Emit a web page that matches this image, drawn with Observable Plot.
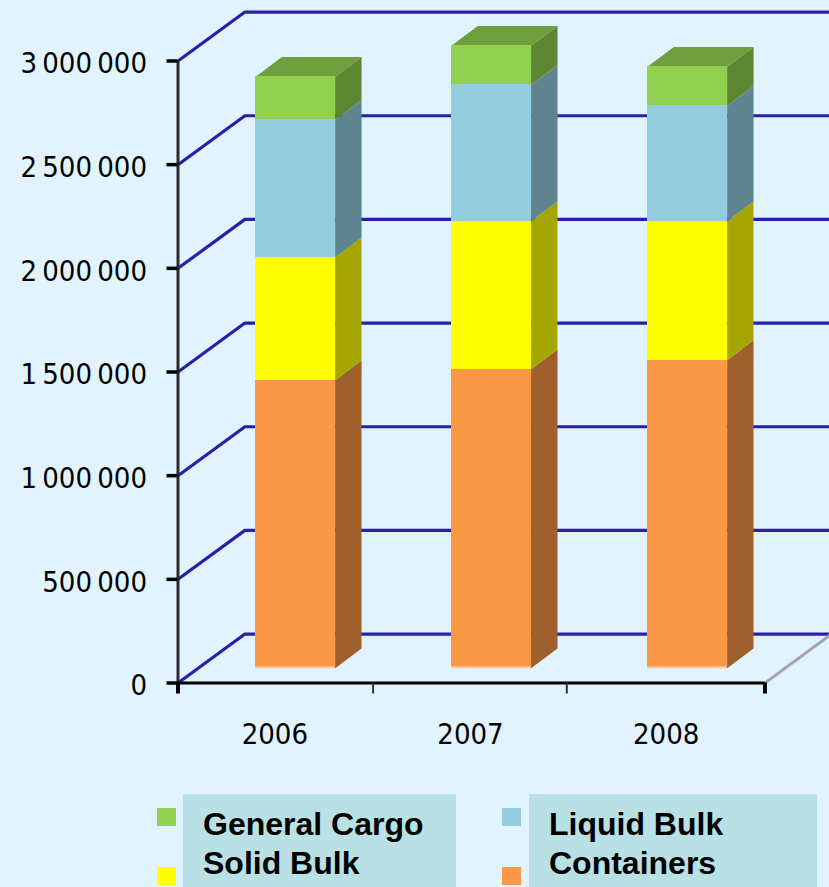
<!DOCTYPE html>
<html><head><meta charset="utf-8">
<script src="https://cdn.jsdelivr.net/npm/d3@7"></script>
<script src="https://cdn.jsdelivr.net/npm/@observablehq/plot@0.6"></script>
<style>
html,body{margin:0;padding:0;background:#E1F3FF;overflow:hidden}
#wrap{position:relative;width:829px;height:887px}
#chart svg{display:block}
#legend{position:absolute;left:0;top:794px;width:829px;height:93px;font:bold 32px "Liberation Sans",Arial,sans-serif;color:#000}
.box{position:absolute;top:0;height:93px;background:#B9E0E4}
.lab{position:absolute;white-space:nowrap;line-height:39px}
.sw{position:absolute;width:19px;height:18px}
</style></head><body>
<div id="wrap"><div id="chart"></div><div id="legend"></div></div>
<script>
const years = ["2006","2007","2008"];
const containers = [1389000,1442000,1486000];
const solidBulk = [593000,714000,670000];
const liquidBulk = [663000,658000,557000];
const generalCargo = [207000,188000,188000];
const seriesNames = ["Containers","Solid Bulk","Liquid Bulk","General Cargo"];
const seriesValues = [containers,solidBulk,liquidBulk,generalCargo];
const frontColors = ["#FA9846","#FFFF00","#93CDDD","#92D050"];
const sideColors = ["#9E612D","#A6A600","#5E8490","#5F8733"];
const topColor = "#6F9F3C";
const yTicks = [0,500000,1000000,1500000,2000000,2500000,3000000];
// Projection of the picture's depth axis, in data units
const floorDepthX = 0.342, floorDepthY = 236000;
const barStart = [0.3955,1.397,2.399], barWidth = 0.4075;
const barLiftY = 71000, barDepthX = 0.135, barDepthY = 96000;
const plotEnd = 3, overflowEnd = 3.34;

const fronts = [], sidePts = [], topPts = [];
years.forEach((yr,i)=>{
  let base = barLiftY;
  const x1 = barStart[i], x2 = x1+barWidth;
  seriesValues.forEach((vals,s)=>{
    const top = base+vals[i], id=yr+"-"+s;
    fronts.push({x1,x2,y1:base,y2:top,fill:frontColors[s]});
    [[x2,base],[x2+barDepthX,base+barDepthY],[x2+barDepthX,top+barDepthY],[x2,top]]
      .forEach(([x,y])=>sidePts.push({x,y,id,fill:sideColors[s]}));
    base = top;
  });
  [[x1,base],[x1+barDepthX,base+barDepthY],[x2+barDepthX,base+barDepthY],[x2,base]]
    .forEach(([x,y])=>topPts.push({x,y,id:yr,fill:topColor}));
});
const gridPts = yTicks.flatMap(v=>[
  {x:0,y:v,id:v},{x:floorDepthX,y:v+floorDepthY,id:v},{x:overflowEnd,y:v+floorDepthY,id:v}
]);
const fmt = v => d3.format(",")(v).replace(/,/g,"\u2009");
const baseFloor = years.map((yr,i)=>({x1:barStart[i],x2:barStart[i]+barWidth,y:barLiftY}));
const labelFont = "'DejaVu Sans Condensed','DejaVu Sans',sans-serif";

const chart = Plot.plot({
  width:829,height:794,
  marginLeft:177.5,marginRight:64.5,marginTop:60.5,marginBottom:111.5,
  style:{background:"transparent",overflow:"hidden"},
  x:{domain:[0,plotEnd],axis:null},
  y:{domain:[0,3000000],axis:null},
  marks:[
    Plot.line(gridPts,{x:"x",y:"y",z:"id",stroke:"#2A1FA8",strokeWidth:3.2}),
    Plot.line([{x:plotEnd,y:0},{x:overflowEnd,y:floorDepthY}],{x:"x",y:"y",stroke:"#A6A6A6",strokeWidth:3}),
    Plot.line(sidePts,{x:"x",y:"y",z:"id",fill:"fill",stroke:"none"}),
    Plot.line(topPts,{x:"x",y:"y",z:"id",fill:"fill",stroke:"none"}),
    Plot.rect(fronts,{x1:"x1",x2:"x2",y1:"y1",y2:"y2",fill:"fill",inset:0,shapeRendering:"crispEdges"}),
    Plot.ruleY(baseFloor,{x1:"x1",x2:"x2",y:"y",stroke:"#FBC99E",strokeWidth:2,dy:-1}),
    Plot.ruleX([0],{y1:0,y2:3000000,stroke:"#2B2B2B",strokeWidth:3}),
    Plot.ruleY([0],{x1:0,x2:plotEnd,stroke:"#000",strokeWidth:3}),
    Plot.axisY({ticks:yTicks,tickFormat:()=>"",tickSize:11,strokeWidth:3.5,stroke:"#000"}),
    Plot.axisY({ticks:yTicks,tickFormat:fmt,tickSize:0,tickPadding:31,dy:3,
      fontSize:29,fontFamily:labelFont,fill:"#000"}),
    Plot.axisX({ticks:[0,3],tickFormat:()=>"",tickSize:11,strokeWidth:4,stroke:"#000"}),
    Plot.axisX({ticks:[0.997,1.987],tickFormat:()=>"",tickSize:11,strokeWidth:2,stroke:"#333"}),
    Plot.axisX({ticks:[0.5,1.5,2.5],tickFormat:d=>years[Math.floor(d)],tickSize:0,tickPadding:40,dx:-1,dy:0.5,
      fontSize:29,fontFamily:labelFont,fill:"#000"})
  ]
});
document.getElementById("chart").append(chart);

const legend = document.getElementById("legend");
const boxes=[[183,273],[529,288]];
boxes.forEach(([l,w])=>{const b=document.createElement("div");b.className="box";b.style.left=l+"px";b.style.width=w+"px";legend.append(b);});
const items=[[3,157,14,203,11],[1,157,73,203,50],[2,502,14,549,11],[0,502,73,549,50]];
items.forEach(([s,sx,sy,tx,ty])=>{
  const w=document.createElement("div");w.className="sw";w.style.left=sx+"px";w.style.top=sy+"px";w.style.background=frontColors[s];legend.append(w);
  const t=document.createElement("div");t.className="lab";t.style.left=tx+"px";t.style.top=ty+"px";t.textContent=seriesNames[s];legend.append(t);
});
</script></body></html>
